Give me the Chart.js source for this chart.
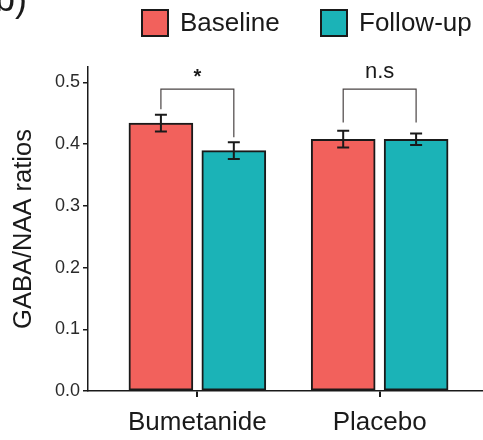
<!DOCTYPE html>
<html>
<head>
<meta charset="utf-8">
<script src="https://cdn.jsdelivr.net/npm/chart.js@4/dist/chart.umd.min.js"></script>
<style>
  html, body { margin: 0; padding: 0; background: #fff; }
  canvas { display: block; }
</style>
</head>
<body>
<canvas id="gaba-chart" width="483" height="440"></canvas>
<script>
// data
const categories = ['Bumetanide', 'Placebo'];
const catPos = [1, 2];
const seriesNames = ['Baseline', 'Follow-up'];
const baseline = [0.434, 0.408];
const baselineErr = [0.0135, 0.0135];
const followUp = [0.3895, 0.408];
const followUpErr = [0.0135, 0.0092];
const yTicks = [0, 0.1, 0.2, 0.3, 0.4, 0.5];
const sigLabels = ['*', 'n.s'];
const bracketTop = [0.489, 0.489];
const bracketLeftEnd = [0.4565, 0.435];
const bracketRightEnd = [0.411, 0.435];

const FONT = "'Liberation Sans', Arial, sans-serif";
const RED = '#F2615C';
const TEAL = '#1BB3B7';
const INK = '#1a1a1a';
const DODGE = 0.2;

function points(vals, shift) {
  return vals.map((v, i) => ({ x: catPos[i] + shift, y: v }));
}

// error bars on top of each bar
const errorBars = {
  id: 'errorBars',
  afterDatasetsDraw(chart) {
    const ctx = chart.ctx;
    const y = chart.scales.y;
    const errs = [baselineErr, followUpErr];
    ctx.save();
    ctx.strokeStyle = INK;
    ctx.lineWidth = 2;
    chart.data.datasets.forEach((ds, di) => {
      chart.getDatasetMeta(di).data.forEach((bar, i) => {
        const v = ds.data[i].y, e = errs[di][i];
        const top = y.getPixelForValue(v + e), bot = y.getPixelForValue(v - e);
        ctx.beginPath();
        ctx.moveTo(bar.x, top); ctx.lineTo(bar.x, bot);
        ctx.moveTo(bar.x - 6, top); ctx.lineTo(bar.x + 6, top);
        ctx.moveTo(bar.x - 6, bot); ctx.lineTo(bar.x + 6, bot);
        ctx.stroke();
      });
    });
    ctx.restore();
  }
};

// significance brackets, legend and panel letter
const annotations = {
  id: 'annotations',
  afterDraw(chart) {
    const ctx = chart.ctx;
    const x = chart.scales.x, y = chart.scales.y;
    ctx.save();
    ctx.strokeStyle = '#4a4444';
    ctx.lineWidth = 1.2;
    catPos.forEach((c, i) => {
      const xl = x.getPixelForValue(c - DODGE), xr = x.getPixelForValue(c + DODGE);
      const yt = y.getPixelForValue(bracketTop[i]);
      ctx.beginPath();
      ctx.moveTo(xl, y.getPixelForValue(bracketLeftEnd[i]));
      ctx.lineTo(xl, yt);
      ctx.lineTo(xr, yt);
      ctx.lineTo(xr, y.getPixelForValue(bracketRightEnd[i]));
      ctx.stroke();
      ctx.fillStyle = INK;
      ctx.font = (i === 0 ? 'bold 20px ' : '22px ') + FONT;
      ctx.textAlign = 'center';
      ctx.textBaseline = 'alphabetic';
      ctx.fillText(sigLabels[i], x.getPixelForValue(c), i === 0 ? 83 : 78);
    });

    // legend
    const boxes = [{ x: 142, c: RED }, { x: 321, c: TEAL }];
    ctx.font = '26px ' + FONT;
    ctx.textAlign = 'left';
    ctx.textBaseline = 'middle';
    boxes.forEach((b, i) => {
      ctx.fillStyle = b.c;
      ctx.fillRect(b.x, 10, 26, 26);
      ctx.lineWidth = 2;
      ctx.strokeStyle = INK;
      ctx.strokeRect(b.x, 10, 26, 26);
      ctx.fillStyle = INK;
      ctx.fillText(seriesNames[i], b.x + 38, 24);
    });

    // cropped panel letter
    ctx.font = '36px ' + FONT;
    ctx.textBaseline = 'alphabetic';
    ctx.fillText('b)', -5, 11);
    ctx.restore();
  }
};

new Chart(document.getElementById('gaba-chart'), {
  type: 'bar',
  data: {
    datasets: [
      {
        label: seriesNames[0],
        data: points(baseline, -DODGE),
        backgroundColor: RED
      },
      {
        label: seriesNames[1],
        data: points(followUp, DODGE),
        backgroundColor: TEAL
      }
    ]
  },
  options: {
    responsive: false,
    animation: false,
    grouped: false,
    barThickness: 64,
    maxBarThickness: 64,
    borderWidth: 2,
    borderColor: INK,
    borderSkipped: false,
    layout: { padding: { top: 67, left: 0, right: 0, bottom: 0 } },
    plugins: {
      legend: { display: false },
      tooltip: { enabled: false }
    },
    scales: {
      x: {
        type: 'linear',
        offset: false,
        min: 0.4,
        max: 2.567,
        afterFit(s) { s.height = 49; },
        afterBuildTicks(s) { s.ticks = catPos.map(v => ({ value: v })); },
        grid: { offset: false, drawOnChartArea: false, drawTicks: true, tickLength: 6, color: INK, lineWidth: 2 },
        border: { display: true, color: INK, width: 1.5 },
        ticks: {
          padding: 10,
          maxRotation: 0,
          autoSkip: false,
          color: INK,
          font: { family: FONT, size: 26 },
          callback: (v, i) => categories[i]
        }
      },
      y: {
        min: 0,
        max: 0.525,
        afterFit(s) { s.width = 88; },
        afterBuildTicks(s) { s.ticks = yTicks.map(v => ({ value: v })); },
        grid: { drawOnChartArea: false, drawTicks: true, tickLength: 5, color: INK, lineWidth: 1.5 },
        border: { display: true, color: INK, width: 1.5 },
        ticks: {
          padding: 3,
          color: '#2a2a2a',
          font: { family: FONT, size: 18 },
          callback: v => v.toFixed(1)
        },
        title: {
          display: true,
          text: 'GABA/NAA ratios',
          color: INK,
          font: { family: FONT, size: 25.5 },
          padding: { top: 9, bottom: 0 }
        }
      }
    }
  },
  plugins: [errorBars, annotations]
});
</script>
</body>
</html>
